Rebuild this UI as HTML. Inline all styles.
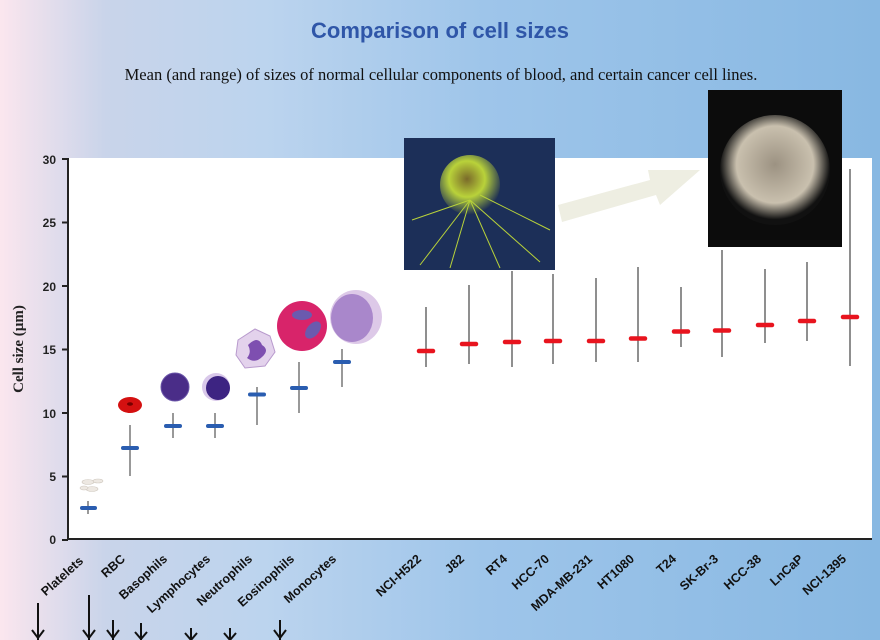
<!DOCTYPE html>
<html><head><meta charset="utf-8"><style>
html,body{margin:0;padding:0;width:880px;height:640px;overflow:hidden}
</style></head><body>
<svg width="880" height="640" viewBox="0 0 880 640" xmlns="http://www.w3.org/2000/svg" font-family="Liberation Sans, sans-serif">
<defs>
<linearGradient id="bg" x1="0" y1="0" x2="1" y2="0">
<stop offset="0" stop-color="#fbe6ee"/>
<stop offset="0.12" stop-color="#c9d4ea"/>
<stop offset="0.3" stop-color="#bcd4ee"/>
<stop offset="0.55" stop-color="#9ec5ea"/>
<stop offset="1" stop-color="#88b8e2"/>
</linearGradient>
<radialGradient id="g1" cx="0.45" cy="0.4" r="0.6"><stop offset="0" stop-color="#7a6a2a"/><stop offset="0.5" stop-color="#b9d23a"/><stop offset="1" stop-color="#1c2d55"/></radialGradient>
<radialGradient id="g2" cx="0.5" cy="0.45" r="0.5"><stop offset="0" stop-color="#9c9282"/><stop offset="0.7" stop-color="#c9c0ae"/><stop offset="1" stop-color="#111"/></radialGradient>
</defs>
<rect width="880" height="640" fill="url(#bg)"/>
<rect x="68" y="158" width="804" height="381" fill="#fff"/>
<text x="440" y="38" text-anchor="middle" font-size="22" font-weight="bold" fill="#2f56a8">Comparison of cell sizes</text>
<text x="441" y="80" text-anchor="middle" font-size="16.5" font-family="Liberation Serif, serif" fill="#111">Mean (and range) of sizes of normal cellular components of blood, and certain cancer cell lines.</text>
<g stroke="#222" stroke-width="2">
<line x1="68" y1="158" x2="68" y2="540"/>
<line x1="67" y1="539" x2="872" y2="539"/>
<line x1="62" y1="159" x2="68" y2="159"/><line x1="62" y1="222.5" x2="68" y2="222.5"/><line x1="62" y1="286" x2="68" y2="286"/><line x1="62" y1="349.5" x2="68" y2="349.5"/><line x1="62" y1="413" x2="68" y2="413"/><line x1="62" y1="476.5" x2="68" y2="476.5"/><line x1="62" y1="540" x2="68" y2="540"/>
</g>
<g font-size="12" font-weight="bold" fill="#222" text-anchor="end">
<text x="56" y="164">30</text><text x="56" y="227">25</text><text x="56" y="291">20</text><text x="56" y="354">15</text><text x="56" y="418">10</text><text x="56" y="481">5</text><text x="56" y="544">0</text>
</g>
<text transform="translate(23,349) rotate(-90)" text-anchor="middle" font-family="Liberation Serif, serif" font-weight="bold" font-size="15" fill="#222">Cell size (µm)</text>
<g stroke="#555" stroke-width="1.2">
<line x1="88" y1="514" x2="88" y2="501"/>
<line x1="130" y1="476" x2="130" y2="425"/>
<line x1="173" y1="438" x2="173" y2="413"/>
<line x1="215" y1="438" x2="215" y2="413"/>
<line x1="257" y1="425" x2="257" y2="387"/>
<line x1="299" y1="413" x2="299" y2="362"/>
<line x1="342" y1="387" x2="342" y2="349"/>
</g>
<g stroke="#2a5db0" stroke-width="4" stroke-linecap="round">
<line x1="82" y1="508" x2="95" y2="508"/>
<line x1="123" y1="448" x2="137" y2="448"/>
<line x1="166" y1="426" x2="180" y2="426"/>
<line x1="208" y1="426" x2="222" y2="426"/>
<line x1="250" y1="394.5" x2="264" y2="394.5"/>
<line x1="292" y1="388" x2="306" y2="388"/>
<line x1="335" y1="362" x2="349" y2="362"/>
</g>
<g fill="#ede8e2" stroke="#cfc8bf" stroke-width="0.6"><ellipse cx="88" cy="482" rx="6" ry="2.5"/><ellipse cx="98" cy="481" rx="5" ry="2"/><ellipse cx="92" cy="489" rx="6" ry="2.5"/><ellipse cx="84" cy="488" rx="4" ry="2"/></g>
<ellipse cx="130" cy="405" rx="12" ry="8" fill="#d41010"/><ellipse cx="130" cy="404" rx="3" ry="1.8" fill="#700"/>
<circle cx="175" cy="387" r="14" fill="#4a2d88"/><circle cx="175" cy="387" r="14" fill="none" stroke="#6a55a8" stroke-width="1"/>
<circle cx="216" cy="387" r="14" fill="#d9c8ea"/><circle cx="218" cy="388" r="12" fill="#3d2482"/>
<path d="M238 340 L255 329 L270 336 L275 352 L265 366 L245 368 L236 355Z" fill="#e3d2ec" stroke="#b89acd"/>
<path d="M248 345 Q258 335 262 345 Q270 350 262 357 Q255 364 247 358 Q252 352 248 345Z" fill="#7e4fb0"/>
<circle cx="302" cy="326" r="25" fill="#d8246a"/><ellipse cx="302" cy="315" rx="10" ry="5" fill="#6b5aae"/><ellipse cx="313" cy="330" rx="6" ry="10" transform="rotate(40 313 330)" fill="#6b5aae"/>
<ellipse cx="356" cy="317" rx="26" ry="27" fill="#ddc9e8"/><ellipse cx="352" cy="318" rx="21" ry="24" fill="#a987cb"/>
<g stroke="#333" stroke-width="1.1">
<line x1="426" y1="367" x2="426" y2="307"/>
<line x1="469" y1="364" x2="469" y2="285"/>
<line x1="512" y1="367" x2="512" y2="271"/>
<line x1="553" y1="364" x2="553" y2="274"/>
<line x1="596" y1="362" x2="596" y2="278"/>
<line x1="638" y1="362" x2="638" y2="267"/>
<line x1="681" y1="347" x2="681" y2="287"/>
<line x1="722" y1="357" x2="722" y2="250"/>
<line x1="765" y1="343" x2="765" y2="269"/>
<line x1="807" y1="341" x2="807" y2="262"/>
<line x1="850" y1="366" x2="850" y2="169"/>
</g>
<g stroke="#e8141e" stroke-width="4.5" stroke-linecap="round">
<line x1="419" y1="351" x2="433" y2="351"/>
<line x1="462" y1="344" x2="476" y2="344"/>
<line x1="505" y1="342" x2="519" y2="342"/>
<line x1="546" y1="341" x2="560" y2="341"/>
<line x1="589" y1="341" x2="603" y2="341"/>
<line x1="631" y1="338.5" x2="645" y2="338.5"/>
<line x1="674" y1="331.5" x2="688" y2="331.5"/>
<line x1="715" y1="330.5" x2="729" y2="330.5"/>
<line x1="758" y1="325" x2="772" y2="325"/>
<line x1="800" y1="321" x2="814" y2="321"/>
<line x1="843" y1="317" x2="857" y2="317"/>
</g>
<rect x="404" y="138" width="151" height="132" fill="#1c2f58"/>
<circle cx="470" cy="185" r="30" fill="url(#g1)"/>
<g stroke="#b8d23a" stroke-width="1"><line x1="470" y1="200" x2="420" y2="265"/><line x1="470" y1="200" x2="450" y2="268"/><line x1="470" y1="200" x2="500" y2="268"/><line x1="470" y1="200" x2="540" y2="262"/><line x1="470" y1="200" x2="412" y2="220"/><line x1="480" y1="195" x2="550" y2="230"/></g>
<path d="M558 205 L650 180 L648 170 L700 170 L660 205 L656 195 L562 222Z" fill="#eeeee2"/>
<rect x="708" y="90" width="134" height="157" fill="#0c0c0c"/>
<circle cx="775" cy="170" r="55" fill="url(#g2)"/>
<g font-size="12.5" font-weight="bold" fill="#111" text-anchor="end">
<text transform="translate(84,562) rotate(-42)">Platelets</text>
<text transform="translate(126,560) rotate(-42)">RBC</text>
<text transform="translate(168,560) rotate(-42)">Basophils</text>
<text transform="translate(211,560) rotate(-42)">Lymphocytes</text>
<text transform="translate(253,560) rotate(-42)">Neutrophils</text>
<text transform="translate(295,560) rotate(-42)">Eosinophils</text>
<text transform="translate(337,560) rotate(-42)">Monocytes</text>
<text transform="translate(422,560) rotate(-42)">NCI-H522</text>
<text transform="translate(465,560) rotate(-42)">J82</text>
<text transform="translate(508,560) rotate(-42)">RT4</text>
<text transform="translate(550,560) rotate(-42)">HCC-70</text>
<text transform="translate(593,560) rotate(-42)">MDA-MB-231</text>
<text transform="translate(635,560) rotate(-42)">HT1080</text>
<text transform="translate(677,560) rotate(-42)">T24</text>
<text transform="translate(719,560) rotate(-42)">SK-Br-3</text>
<text transform="translate(762,560) rotate(-42)">HCC-38</text>
<text transform="translate(804,560) rotate(-42)">LnCaP</text>
<text transform="translate(847,560) rotate(-42)">NCI-1395</text>
</g>
<g stroke="#111" stroke-width="2" fill="none">
<path d="M38 603 V640 M32 630 L38 638 L44 630"/>
<path d="M89 595 V640 M83 630 L89 638 L95 630"/>
<path d="M113 620 V640 M107 630 L113 638 L119 630"/>
<path d="M141 623 V640 M135 632 L141 639 L147 632"/>
<path d="M191 628 V640 M185 633 L191 640 L197 633"/>
<path d="M230 628 V640 M224 633 L230 640 L236 633"/>
<path d="M280 620 V640 M274 630 L280 638 L286 630"/>
</g>
</svg>
</body></html>
